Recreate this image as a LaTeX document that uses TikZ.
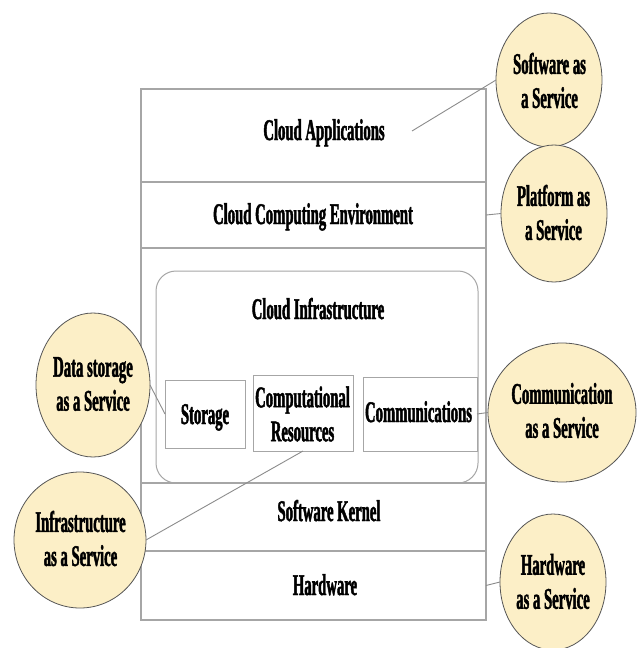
\documentclass[tikz,border=0pt]{standalone}
\usepackage{fontspec}
\setmainfont{Liberation Serif}[FakeStretch=0.49,BoldFeatures={FakeBold=1.5}]
\usetikzlibrary{shapes.geometric}
\definecolor{svcfill}{HTML}{FCEFC7}
\definecolor{svcline}{HTML}{555555}
\definecolor{boxline}{HTML}{A6A6A6}
\definecolor{conline}{HTML}{8C8C8C}
\begin{document}
\begin{tikzpicture}[x=1pt,y=-1pt,
  layer/.style={draw=boxline,line width=1.2pt,minimum width=345pt,inner sep=0pt,outer sep=0pt},
  roundbox/.style={draw=boxline,line width=1pt,rounded corners=20pt,inner sep=0pt,outer sep=0pt},
  smallbox/.style={draw=boxline,line width=1pt,inner sep=0pt,outer sep=0pt},
  svc/.style={ellipse,draw=svcline,fill=svcfill,line width=0.8pt,inner sep=0pt,outer sep=0pt},
  lbl/.style={font=\bfseries\fontsize{30}{34}\selectfont,align=center,inner sep=0pt},
  con/.style={draw=conline,line width=0.9pt}]
\useasboundingbox (0,0) rectangle (638,648);
\fill[white] (0,0) rectangle (638,648);
% layers
\node[layer,minimum height=93pt] (ca) at (313.5,135.5) {};
\node[layer,minimum height=66pt] (cce) at (313.5,215) {};
\node[layer,minimum height=235pt] (cinf) at (313.5,365.5) {};
\node[layer,minimum height=68pt] (sk) at (313.5,517) {};
\node[layer,minimum height=69pt] (hw) at (313.5,585.5) {};
% infrastructure
\node[roundbox,minimum width=322pt,minimum height=212pt] (infra) at (317,377) {};
\node[smallbox,minimum width=80pt,minimum height=68pt] (storage) at (205,414) {};
\node[smallbox,minimum width=100pt,minimum height=76pt] (comp) at (303,413) {};
\node[smallbox,minimum width=114pt,minimum height=74pt] (comm) at (420,414) {};
% layer texts
\node[lbl,anchor=base] (caT) at (324,140) {Cloud Applications};
\node[lbl,anchor=base] (cceT) at (313,224) {Cloud Computing Environment};
\node[lbl,anchor=base] (cinfT) at (318,319) {Cloud Infrastructure};
\node[lbl,anchor=base] (storT) at (205,424) {Storage};
\node[lbl] (compT) at (302.5,414) {Computational\\Resources};
\node[lbl,anchor=base] (commT) at (418.5,422) {Communications};
\node[lbl,anchor=base] (skT) at (329,521) {Software Kernel};
\node[lbl,anchor=base] (hwT) at (325,595) {Hardware};
% connector start beside the text of the top layer
\coordinate (caEnd) at (412,131);
% services
\node[svc,minimum width=106pt,minimum height=134pt] (saas) at (549,80) {};
\node[svc,minimum width=106pt,minimum height=137pt] (paas) at (554,213.5) {};
\node[svc,minimum width=114pt,minimum height=144pt] (daas) at (93,385) {};
\node[svc,minimum width=148pt,minimum height=139pt] (caas) at (562,412.5) {};
\node[svc,minimum width=132pt,minimum height=136pt] (iaas) at (80,540) {};
\node[svc,minimum width=106pt,minimum height=136pt] (haas) at (553,582) {};
\node[lbl] (saasT) at (549.5,80.5) {Software as\\a Service};
\node[lbl] (paasT) at (553.5,212.5) {Platform as\\a Service};
\node[lbl] (daasT) at (93,384) {Data storage\\as a Service};
\node[lbl] (caasT) at (562,410.5) {Communication\\as a Service};
\node[lbl] (iaasT) at (80.5,538.5) {Infrastructure\\as a Service};
\node[lbl] (haasT) at (553,581.5) {Hardware\\as a Service};
\draw[con] (caEnd) -- (saas.west);
\draw[con] (cce.east) -- (paas.west);
\draw[con] (daas.east) -- (storage.west);
\draw[con] (comm.east) -- (caas.west);
\draw[con] (comp.south) -- (iaas.east);
\draw[con] (hw.east) -- (haas.west);
\end{tikzpicture}
\end{document}
